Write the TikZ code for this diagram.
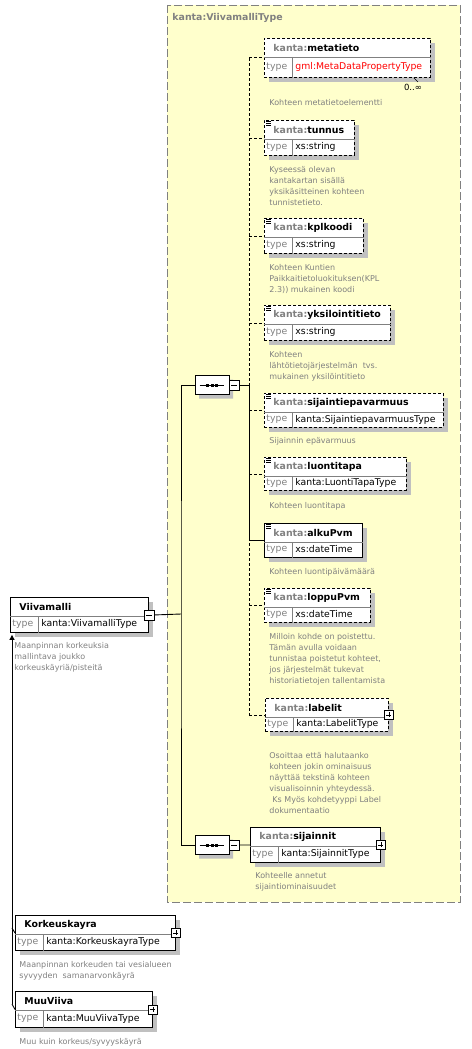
\documentclass[tikz,border=0pt]{standalone}
\usepackage{fontspec}
\setmainfont{DejaVu Sans}
\usetikzlibrary{positioning,shapes.misc,shadows,arrows.meta}

\definecolor{paleyellow}{HTML}{FFFFCC}
\definecolor{shadowgray}{HTML}{C0C0C0}
\definecolor{txtgray}{HTML}{808080}

\newcommand{\kanta}[1]{\textcolor{txtgray}{kanta:}#1}
% element box: name, x, y, width, height, border, label, type
\newcommand{\element}[8]{%
  \node[elem,#6,minimum width=#4pt,minimum height=#5pt] (#1) at (#2,#3) {};
  \draw[divider] ([yshift=-19pt]#1.north west) -- ([yshift=-19pt]#1.north east);
  \draw[divider] ([shift={(28,19)}]#1.north west) -- ([xshift=28pt]#1.south west);
  \node[headtext] at ([shift={(9,10)}]#1.north west) {#7};
  \node[typetext,text=txtgray] at ([shift={(2,{(19+#5)/2})}]#1.north west) {type};
  \node[typetext] at ([shift={(31,{(19+#5)/2})}]#1.north west) {#8};
}

\begin{document}
\begin{tikzpicture}[x=1pt,y=-1pt,line width=0.9pt]
\tikzstyle{elem}=[draw,fill=white,anchor=north west,inner sep=0,
  drop shadow={shadow xshift=5pt,shadow yshift=-5pt,fill=shadowgray,opacity=1}]
\tikzstyle{opt}=[dash pattern=on 3pt off 2pt]
\tikzstyle{divider}=[solid,draw=txtgray,line width=0.7pt]
\tikzstyle{headtext}=[anchor=west,inner sep=0,font=\fontsize{9.4}{11}\selectfont\bfseries]
\tikzstyle{typetext}=[anchor=west,inner sep=0,font=\fontsize{9.3}{11}\selectfont]
\tikzstyle{desc}=[anchor=north west,align=left,inner sep=0,text=txtgray,font=\fontsize{8}{11}\selectfont]
\tikzstyle{seq}=[draw,fill=white,chamfered rectangle,chamfered rectangle xsep=5pt,
  minimum width=34pt,minimum height=19pt,inner sep=0,
  drop shadow={shadow xshift=4pt,shadow yshift=-4pt,fill=shadowgray,opacity=1}]
\tikzstyle{minus}=[draw,fill=white,minimum size=10pt,inner sep=0,line width=0.8pt,
  path picture={\draw ([xshift=2pt]path picture bounding box.west) -- ([xshift=-2pt]path picture bounding box.east);}]
\tikzstyle{plus}=[draw,fill=white,minimum size=9pt,inner sep=0,line width=0.8pt,
  path picture={\draw ([xshift=2pt]path picture bounding box.west) -- ([xshift=-2pt]path picture bounding box.east)
    ([yshift=-2pt]path picture bounding box.north) -- ([yshift=2pt]path picture bounding box.south);}]

\useasboundingbox (0,0) rectangle (471,1049);

% complex type area
\draw[draw=txtgray,fill=paleyellow,dash pattern=on 8pt off 3pt] (167,5) rectangle (460,902);
\node[headtext,text=txtgray] (title) at (172,18) {kanta:ViivamalliType};

% children
\element{metatieto}{264}{38}{166}{39}{opt}{\kanta{metatieto}}{\textcolor{red}{gml:MetaDataPropertyType}}
\element{tunnus}{264}{120}{90}{35}{opt}{\kanta{tunnus}}{xs:string}
\element{kplkoodi}{264}{218}{99}{35}{opt}{\kanta{kplkoodi}}{xs:string}
\element{yksilointitieto}{264}{305}{126}{35}{opt}{\kanta{yksilointitieto}}{xs:string}
\element{sijaintiepavarmuus}{264}{393}{179}{34}{opt}{\kanta{sijaintiepavarmuus}}{kanta:SijaintiepavarmuusType}
\element{luontitapa}{264}{457}{142}{33}{opt}{\kanta{luontitapa}}{kanta:LuontiTapaType}
\element{alkuPvm}{264}{523}{98}{34}{solid}{\kanta{alkuPvm}}{xs:dateTime}
\element{loppuPvm}{264}{588}{106}{34}{opt}{\kanta{loppuPvm}}{xs:dateTime}
\element{labelit}{265}{698}{123}{33}{opt}{\kanta{labelit}}{kanta:LabelitType}
\element{sijainnit}{250}{827}{130}{35}{solid}{\kanta{sijainnit}}{kanta:SijainnitType}

% global element and substitutes
\element{viivamalli}{10}{597}{138}{35}{solid}{Viivamalli}{kanta:ViivamalliType}
\element{korkeuskayra}{15}{915}{160}{35}{solid}{Korkeuskayra}{kanta:KorkeuskayraType}
\element{muuviiva}{15}{991}{137}{36}{solid}{MuuViiva}{kanta:MuuViivaType}

\foreach \e in {tunnus,kplkoodi,yksilointitieto,sijaintiepavarmuus,luontitapa,alkuPvm,loppuPvm}
  \foreach \k in {1.5,3.5,5.5}
    \draw[line width=0.6pt] ([shift={(2,\k)}]\e.north west) -- ++(5,0);

\node[font=\fontsize{8.5}{10}\selectfont,inner sep=0] (mult) at (413,87) {0..∞};
\draw[line width=0.6pt] ([xshift=-17pt]metatieto.south east) -- ++(4,4);

% compositors
\node[seq] (seq1) at (212,385) {};
\node[seq] (seq2) at (212,845) {};
\foreach \s in {seq1,seq2} {
  \draw ([xshift=5pt]\s.west) -- ([xshift=-5pt]\s.east);
  \foreach \d in {-4.5,0,4.5}
    \fill ([shift={(\d,0)}]\s.center) +(-1.5,-1.5) rectangle +(1.5,1.5);
}
\node[minus] (seq1-m) at ([xshift=5pt]seq1.east) {};
\node[minus] (seq2-m) at ([xshift=5pt]seq2.east) {};
\node[minus] (viivamalli-m) at (viivamalli.east) {};
\foreach \e in {labelit,sijainnit,korkeuskayra,muuviiva}
  \node[plus] (\e-p) at (\e.east) {};

% connectors
\coordinate (spine) at (181,614);
\coordinate (branch) at (249,385);
\draw (viivamalli-m.east) -- (spine);
\draw (seq1.west) -| (spine) |- (seq2.west);
\draw (seq1-m.east) -- (branch);
\draw (seq2-m.east) -- (sijainnit.west);
\draw[opt] (metatieto.west -| branch) -- (labelit.west -| branch);
\draw (branch) -- (alkuPvm.west -| branch) -- (alkuPvm.west);
\foreach \e in {metatieto,tunnus,kplkoodi,yksilointitieto,sijaintiepavarmuus,luontitapa,loppuPvm,labelit}
  \draw[opt] (\e.west -| branch) -- (\e.west);

\coordinate (subst) at (12,1004);
\draw[-{Triangle[length=5pt,width=5pt]}] (subst) -- ([yshift=-2pt]subst |- viivamalli.south);
\draw (korkeuskayra.west) -- ++(-3,-5);
\draw (muuviiva.west) -- (subst);

% documentation
\node[desc] (metatieto-d) at ([shift={(5,21)}]metatieto.south west) {Kohteen metatietoelementti};
\node[desc] (tunnus-d) at ([shift={(5,10)}]tunnus.south west) {Kyseessä olevan\\kantakartan sisällä\\yksikäsitteinen kohteen\\tunnistetieto.};
\node[desc] (kplkoodi-d) at ([shift={(5,10)}]kplkoodi.south west) {Kohteen Kuntien\\Paikkaitietoluokituksen(KPL\\2.3)) mukainen koodi};
\node[desc] (yksilointitieto-d) at ([shift={(5,10)}]yksilointitieto.south west) {Kohteen\\lähtötietojärjestelmän~ tvs.\\mukainen yksilöintitieto};
\node[desc] (sijaintiepavarmuus-d) at ([shift={(5,9)}]sijaintiepavarmuus.south west) {Sijainnin epävarmuus};
\node[desc] (luontitapa-d) at ([shift={(5,11)}]luontitapa.south west) {Kohteen luontitapa};
\node[desc] (alkuPvm-d) at ([shift={(5,10)}]alkuPvm.south west) {Kohteen luontipäivämäärä};
\node[desc] (loppuPvm-d) at ([shift={(5,10)}]loppuPvm.south west) {Milloin kohde on poistettu.\\Tämän avulla voidaan\\tunnistaa poistetut kohteet,\\jos järjestelmät tukevat\\historiatietojen tallentamista};
\node[desc] (labelit-d) at ([shift={(4,20)}]labelit.south west) {Osoittaa että halutaanko\\kohteen jokin ominaisuus\\näyttää tekstinä kohteen\\visualisoinnin yhteydessä.\\\hspace*{3pt}Ks Myös kohdetyyppi Label\\dokumentaatio};
\node[desc] (sijainnit-d) at ([shift={(5,9)}]sijainnit.south west) {Kohteelle annetut\\sijaintiominaisuudet};
\node[desc] (viivamalli-d) at ([shift={(4,9)}]viivamalli.south west) {Maanpinnan korkeuksia\\mallintava joukko\\korkeuskäyriä/pisteitä};
\node[desc] (korkeuskayra-d) at ([shift={(4,10)}]korkeuskayra.south west) {Maanpinnan korkeuden tai vesialueen\\syvyyden~ samanarvonkäyrä};
\node[desc] (muuviiva-d) at ([shift={(4,10)}]muuviiva.south west) {Muu kuin korkeus/syvyyskäyrä};
\end{tikzpicture}
\end{document}
